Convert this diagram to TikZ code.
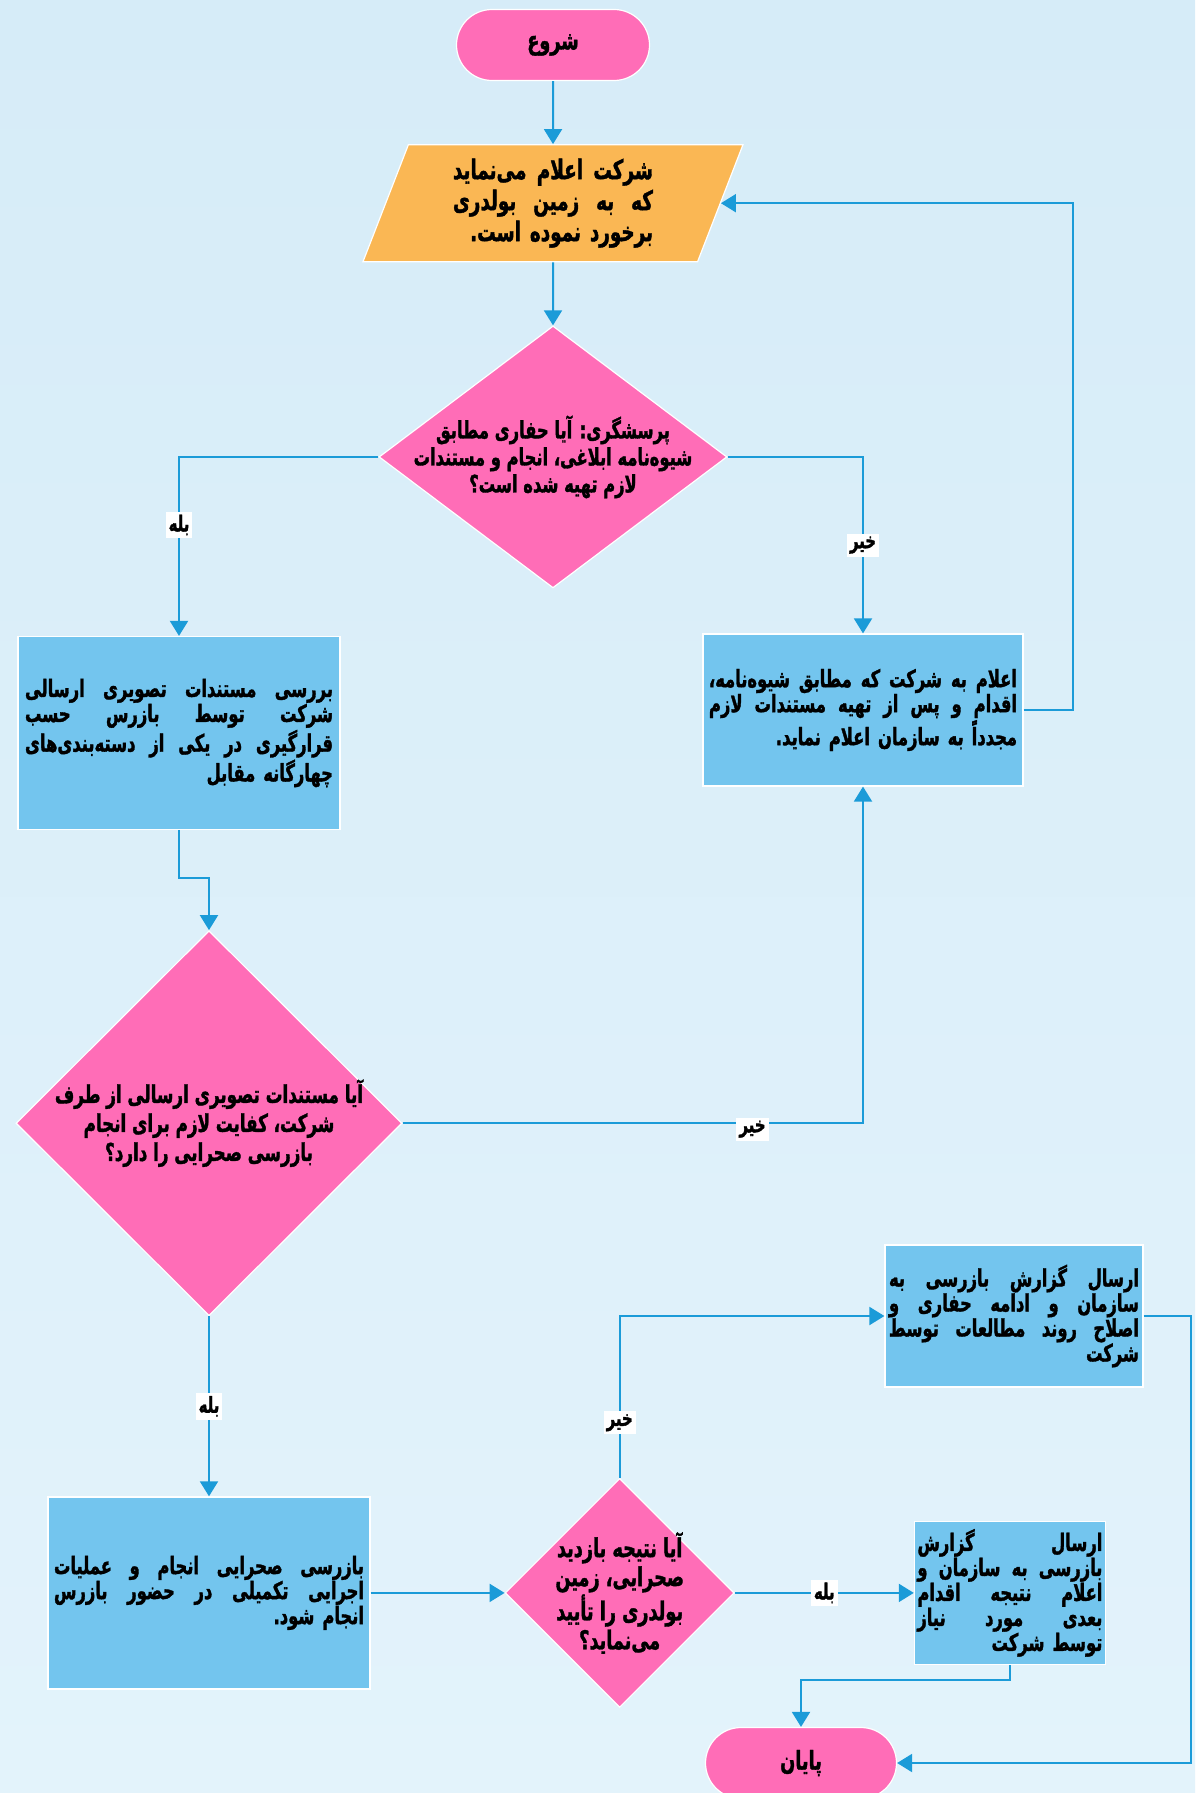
\documentclass[tikz,border=0pt]{standalone}
\usepackage{fontspec}
\newfontfamily\farsi[Script=Arabic, FakeStretch=0.68, BoldFeatures={FakeBold=1.4}]{DejaVu Sans}
\TeXXeTstate=1
\usetikzlibrary{
  positioning,
  arrows.meta,
  shapes.geometric, shapes.misc
}
\definecolor{termpink}{HTML}{FF6DB7}
\definecolor{iofill}{HTML}{FAB754}
\definecolor{procblue}{HTML}{73C5EE}
\definecolor{flowline}{HTML}{1B9BD8}
\definecolor{bgtop}{HTML}{D6ECF8}
\definecolor{bgbot}{HTML}{E3F3FB}
\newcommand{\rtxt}[1]{\beginR #1\endR}
\newcommand{\fline}[1]{\hbox to \hsize{\spaceskip=0.25em plus 1fil\relax\beginR #1\endR}}
\newcommand{\eline}[1]{\hbox to \hsize{\hfill\beginR #1\endR}}

\begin{document}
\begin{tikzpicture}[x=0.5pt, y=-0.5pt]
			\tikzset{
			terminal/.style={
					rounded rectangle, fill=termpink, draw=white, line width=0.6pt,
					minimum width=96.5pt, minimum height=35.5pt, inner sep=0pt,
					font=\farsi\bfseries\fontsize{13}{14}\selectfont,
				},
			iobox/.style={
					trapezium, trapezium left angle=63, trapezium right angle=117,
					trapezium stretches body, fill=iofill, draw=white, line width=0.6pt,
					minimum width=190pt, minimum height=58.5pt, inner sep=0pt, text width=100pt,
					font=\farsi\bfseries\fontsize{13.5}{15.5}\selectfont,
				},
			decision/.style={
					diamond, fill=termpink, draw=white, line width=0.6pt, inner sep=0pt,
				},
			qtext/.style={
					align=center, inner sep=0pt,
					font=\farsi\bfseries\fontsize{12.3}{14.5}\selectfont,
				},
			process/.style={
					rectangle, fill=procblue, draw=white, line width=0.6pt, inner sep=0pt,
					font=\farsi\bfseries\fontsize{12}{12.5}\selectfont,
				},
			flow/.style={
			draw=flowline, line width=1pt, -{Triangle[length=7.5pt,width=9pt]}, },
			yesno/.style={
					fill=white, inner sep=1.5pt, font=\farsi\bfseries\fontsize{11}{12}\selectfont,
				},
			}
			\useasboundingbox (0,0) rectangle (1195,1793);
			\shade[top color=bgtop, bottom color=bgbot] (0,0) rectangle (1195,1793);

			\node[terminal] (start) at (553,45) {\rtxt{شروع}};
			\node[iobox, below=31.5pt of start] (para) {
				\fline{شرکت اعلام می^^^^200cنماید}
				\fline{که به زمین بولدری}
				\eline{برخورد نموده است.}
			};
			\node[decision, below=31.5pt of para, minimum width=174pt, minimum height=131pt] (q1) {};
			\node[qtext, font=\farsi\bfseries\fontsize{12}{13.5}\selectfont] (q1t) at (q1) {\rtxt{پرسشگری: آیا حفاری مطابق}\\
				\rtxt{شیوه^^^^200cنامه ابلاغی، انجام و مستندات}\\
				\rtxt{لازم تهیه شده است؟}};

			\node[process, minimum width=161pt, minimum height=96.5pt, text width=154pt] (chk) at (179,733) {
				\fline{بررسی مستندات تصویری ارسالی}
				\fline{شرکت توسط بازرس حسب}
				\fline{قرارگیری در یکی از دسته^^^^200cبندی^^^^200cهای}
				\eline{چهارگانه مقابل}
			};
			\node[process, minimum width=160pt, minimum height=76pt, text width=154pt] (ret) at (863,710) {
				\fline{اعلام به شرکت که مطابق شیوه^^^^200cنامه،}
				\fline{اقدام و پس از تهیه مستندات لازم}
				\eline{مجدداً به سازمان اعلام نماید.}
			};

			\node[decision, below=50pt of chk, xshift=15pt, minimum width=193pt, minimum height=192.5pt] (q2) {};
			\node[qtext] (q2t) at (q2) {\rtxt{آیا مستندات تصویری ارسالی از طرف}\\
				\rtxt{شرکت، کفایت لازم برای انجام}\\
				\rtxt{بازرسی صحرایی را دارد؟}};

			\node[process, below=90pt of q2, minimum width=161pt, minimum height=96pt, text width=155pt] (field) {
				\fline{بازرسی صحرایی انجام و عملیات}
				\fline{اجرایی تکمیلی در حضور بازرس}
				\eline{انجام شود.}
			};
			\node[decision, right=67pt of field, minimum width=114.5pt, minimum height=114.5pt] (q3) {};
			\node[qtext, font=\farsi\bfseries\fontsize{13}{14.5}\selectfont] (q3t) at (q3) {\rtxt{آیا نتیجه بازدید}\\
				\rtxt{صحرایی، زمین}\\
				\rtxt{بولدری را تأیید}\\
				\rtxt{می^^^^200cنماید؟}};

			\node[process, right=89.5pt of q3, minimum width=95.5pt, minimum height=71.5pt, text width=92.5pt] (rep) {
				\fline{ارسال گزارش}
				\fline{بازرسی به سازمان و}
				\fline{اعلام نتیجه اقدام}
				\fline{بعدی مورد نیاز}
				\eline{توسط شرکت}
			};
			\node[process, minimum width=129pt, minimum height=71pt, text width=125pt] (cont) at (1014,1316) {
				\fline{ارسال گزارش بازرسی به}
				\fline{سازمان و ادامه حفاری و}
				\fline{اصلاح روند مطالعات توسط}
				\eline{شرکت}
			};
			\node[terminal, minimum width=95.5pt] (end) at (801,1763) {\rtxt{پایان}};

			\draw[flow] (start) -- (para);
			\draw[flow] (para) -- (q1);
			\draw[flow] (q1.west) -| node[yesno, pos=0.69] (l1) {\rtxt{بله}} (chk.north);
			\draw[flow] (q1.east) -| node[yesno, pos=0.75] (l2) {\rtxt{خیر}} (ret.north);
			\draw[flow] (ret.east) -- ++(49,0) |- (para.east);
			\draw[flow] (chk.south) -- ++(0,48) -| (q2.north);
			\draw[flow] (q2.east) -| node[yesno, pos=0.38, yshift=-3pt] (l3) {\rtxt{خیر}} (ret.south);
			\draw[flow] (q2.south) -- node[yesno, pos=0.5] (l4) {\rtxt{بله}} (field.north);
			\draw[flow] (field.east) -- (q3.west);
			\draw[flow] (q3.north) |- node[yesno, pos=0.17] (l5) {\rtxt{خیر}} (cont.west);
			\draw[flow] (q3.east) -- node[yesno, pos=0.5] (l6) {\rtxt{بله}} (rep.west);
			\draw[flow] (cont.east) -- ++(47,0) |- (end.east);
			\draw[flow] (rep.south) -- ++(0,15) -| (end.north);
		\end{tikzpicture}
\end{document}
